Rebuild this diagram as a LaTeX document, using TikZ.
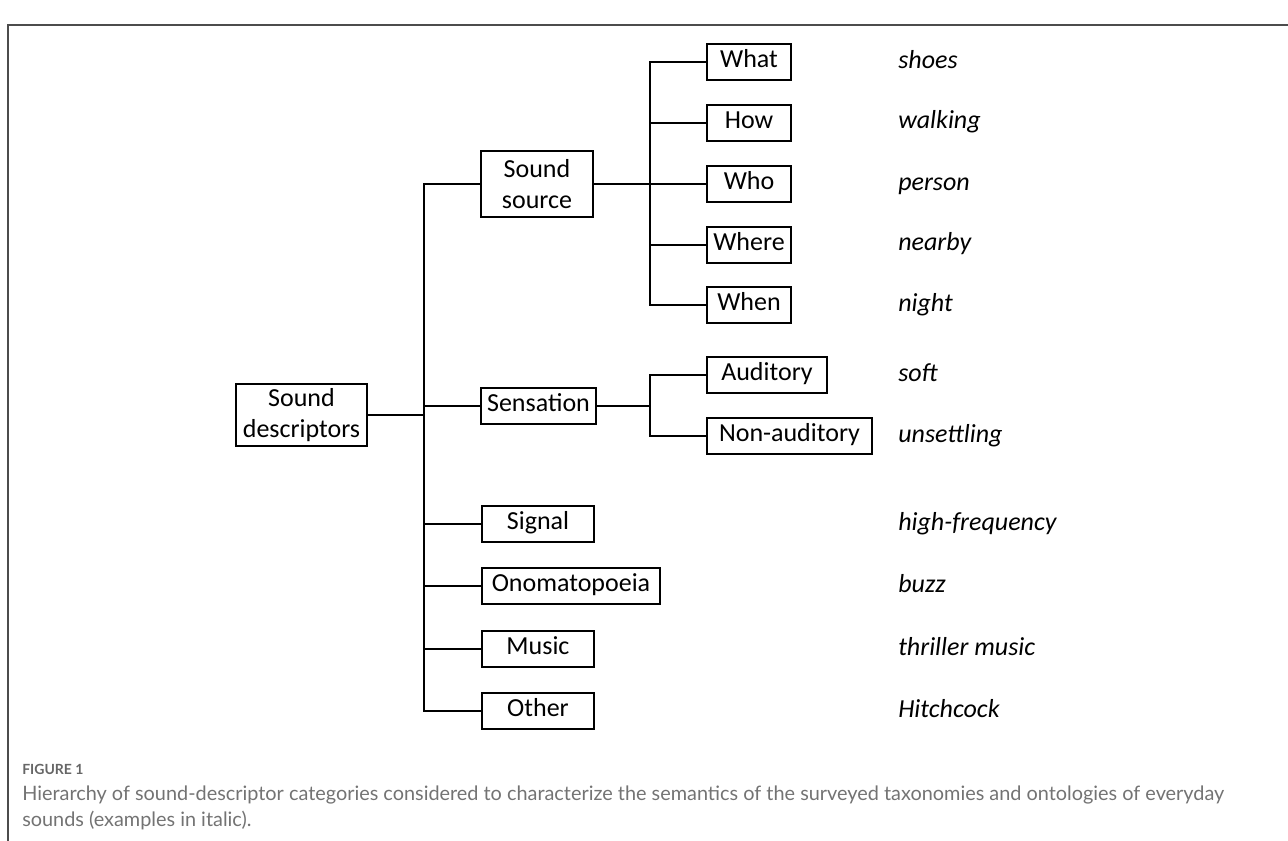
\documentclass[tikz,border=0pt]{standalone}
\usepackage{fontspec}
\setmainfont{Carlito}
\newfontfamily\capfont{Lato}

\begin{document}
\begin{tikzpicture}[x=0.75pt, y=-0.75pt,
    every node/.style={font=\fontsize{19.5}{23}\selectfont},
    box/.style={draw, line width=1.4pt, inner sep=0pt, minimum height=27.5pt, text height=12.5pt, text depth=4.5pt, align=center},
    bigbox/.style={draw, line width=1.4pt, inner sep=0pt, align=center},
    example/.style={anchor=base west, inner sep=0pt, font=\fontsize{19.5}{23}\selectfont\itshape},
    captext/.style={anchor=base west, inner sep=0pt, text=black!55, font=\capfont\fontsize{14.9}{18}\selectfont},
    link/.style={line width=1.4pt}]
    % page size
    \useasboundingbox (0,0) rectangle (1288,841);

    % frame
    \draw [black!70, line width=1.1pt] (8,841) -- (8,25) -- (1288,25);

    % root
    \node (sd) at (301.5,415) [bigbox, minimum width=98pt, minimum height=47pt] {Sound\\descriptors};

    % first level
    \node (src) at (537,184) [bigbox, minimum width=84pt, minimum height=49pt] {Sound\\source};
    \node (sens) at (538.5,406) [box, minimum width=86pt] {Sensation};
    \node (sig) at (538,524) [box, minimum width=84pt] {Signal};
    \node (ono) at (571,586) [box, minimum width=133.5pt] {Onomatopoeia};
    \node (mus) at (538,649) [box, minimum width=84pt] {Music};
    \node (oth) at (538,711) [box, minimum width=84pt] {Other};

    % second level
    \node (what) at (749,62) [box, minimum width=63pt] {What};
    \node (how) at (749,123) [box, minimum width=63pt] {How};
    \node (who) at (749,184) [box, minimum width=63pt] {Who};
    \node (where) at (749,245) [box, minimum width=63pt] {Where};
    \node (when) at (749,305) [box, minimum width=63pt] {When};
    \node (aud) at (767,375) [box, minimum width=90pt] {Auditory};
    \node (nau) at (789.5,436) [box, minimum width=124pt] {Non-auditory};

    % junctions
    \coordinate (j1) at (424,415);
    \coordinate (j2) at (650,184);
    \coordinate (j3) at (650,406);

    % examples
    \node (e1) at (898,68.5) [example] {shoes};
    \node (e2) at (898,129) [example] {walking};
    \node (e3) at (898,190.5) [example] {person};
    \node (e4) at (898,251) [example] {nearby};
    \node (e5) at (898,311.5) [example] {night};
    \node (e6) at (898,381.5) [example] {soft};
    \node (e7) at (898,442.5) [example] {unsettling};
    \node (e8) at (898,530) [example] {high-frequency};
    \node (e9) at (898,592) [example] {buzz};
    \node (e10) at (898,655) [example] {thriller music};
    \node (e11) at (898,717) [example] {Hitchcock};

    % connectors
    \draw [link] (sd) -- (j1);
    \draw [link] (j1) |- (src);
    \draw [link] (j1) |- (sens);
    \draw [link] (j1) |- (sig);
    \draw [link] (j1) |- (ono);
    \draw [link] (j1) |- (mus);
    \draw [link] (j1) |- (oth);
    \draw [link] (src) -- (j2) -- (who);
    \draw [link] (j2) |- (what);
    \draw [link] (j2) |- (how);
    \draw [link] (j2) |- (where);
    \draw [link] (j2) |- (when);
    \draw [link] (sens) -- (j3);
    \draw [link] (j3) |- (aud);
    \draw [link] (j3) |- (nau);

    % caption
    \node (fig) at (22,774) [captext, text=black!60, font=\capfont\bfseries\fontsize{10.5}{12}\selectfont] {FIGURE 1};
    \node (cap1) at (22,800) [captext] {Hierarchy of sound-descriptor categories considered to characterize the semantics of the surveyed taxonomies and ontologies of everyday};
    \node (cap2) at (22,826) [captext] {sounds (examples in italic).};
\end{tikzpicture}
\end{document}
